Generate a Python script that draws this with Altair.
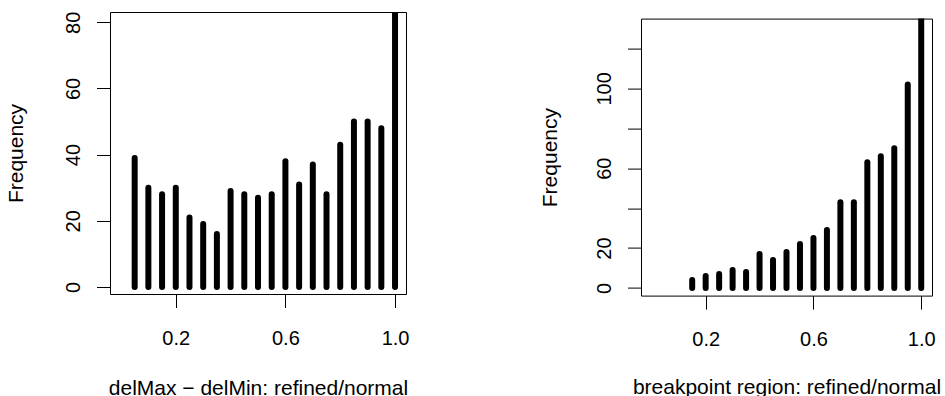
import altair as alt
import pandas as pd

# ---- data ----
left_x = [0.05, 0.10, 0.15, 0.20, 0.25, 0.30, 0.35, 0.40, 0.45, 0.50,
          0.55, 0.60, 0.65, 0.70, 0.75, 0.80, 0.85, 0.90, 0.95, 1.00]
left_freq = [39, 30, 28, 30, 21, 19, 16, 29, 28, 27,
             28, 38, 31, 37, 28, 43, 50, 50, 48, 88]

right_x = [0.15, 0.20, 0.25, 0.30, 0.35, 0.40, 0.45, 0.50, 0.55,
           0.60, 0.65, 0.70, 0.75, 0.80, 0.85, 0.90, 0.95, 1.00]
right_freq = [4, 6, 7, 9, 8, 17, 14, 18, 22,
              25, 29, 43, 43, 63, 66, 70, 102, 140]

x_ticks = [0.2, 0.6, 1.0]
left_y_ticks = [0, 20, 40, 60, 80]
right_y_ticks = [0, 20, 40, 60, 80, 100, 120]
right_y_labelled = [0, 20, 60, 100]

left_title_x = "delMax \u2212 delMin: refined/normal"
right_title_x = "breakpoint region: refined/normal"
y_title = "Frequency"

FONT = "Liberation Sans"
FS = 20
TFS = 21
TICK = 13.5


def panel(xs, ys, xtitle, ydomain, yticks, ylabelled, w, h, xtitle_y, ytitle_x):
    df = pd.DataFrame({"x": xs, "freq": ys})
    label_expr = " || ".join(f"datum.value == {v}" for v in ylabelled)
    ch = alt.Chart(df).mark_rule(
        strokeWidth=6, strokeCap="round", color="black", clip=True
    ).encode(
        x=alt.X("x:Q",
                scale=alt.Scale(domain=[-0.04, 1.04], nice=False, zero=False),
                axis=alt.Axis(values=x_ticks, format=".1f", title=xtitle,
                              tickSize=TICK, tickColor="black", tickWidth=1,
                              labelPadding=20.7, labelBaseline="top",
                              labelFontSize=FS, labelFont=FONT, labelColor="black",
                              domain=False, grid=False,
                              titleFont=FONT, titleFontSize=TFS, titleFontWeight="normal",
                              titleColor="black", titleX=w / 2, titleY=xtitle_y,
                              titleBaseline="alphabetic", titleAlign="center")),
        y=alt.Y("freq:Q",
                scale=alt.Scale(domain=ydomain, nice=False, zero=False),
                axis=alt.Axis(values=yticks, title=y_title,
                              labelExpr=f"({label_expr}) ? datum.label : ''",
                              tickSize=TICK, tickColor="black", tickWidth=1,
                              labelAngle=270, labelAlign="center", labelBaseline="alphabetic",
                              labelPadding=17.3, labelFontSize=FS, labelFont=FONT,
                              labelColor="black", labelOverlap=False,
                              domain=False, grid=False,
                              titleFont=FONT, titleFontSize=TFS, titleFontWeight="normal",
                              titleColor="black", titleAngle=270, titleX=ytitle_x,
                              titleY=h / 2, titleBaseline="alphabetic", titleAlign="center")),
        y2=alt.datum(0),
    )
    return ch.properties(width=w, height=h)


left = panel(left_x, left_freq, left_title_x, [-2.12, 83.1], left_y_ticks,
             left_y_ticks, 296, 282, 100, -87.5)
right = panel(right_x, right_freq, right_title_x, [-3.85, 135.0], right_y_ticks,
              right_y_labelled, 291, 277, 98.3, -84.3)

# invisible spacer that lowers the right panel a few pixels, as in the reference
spacer = alt.Chart(pd.DataFrame({"s": [0]})).mark_point(size=0, opacity=0).properties(
    width=1, height=1, view=alt.ViewBackground(stroke="transparent")
)

chart = alt.hconcat(
    left,
    alt.vconcat(spacer, right, spacing=3.6),
    spacing=129,
).properties(
    padding={"left": 5, "top": 10, "right": 0, "bottom": 0}
).configure_view(stroke="black", strokeWidth=1)

chart.save("out.html", embed_options={"renderer": "svg", "actions": False})
